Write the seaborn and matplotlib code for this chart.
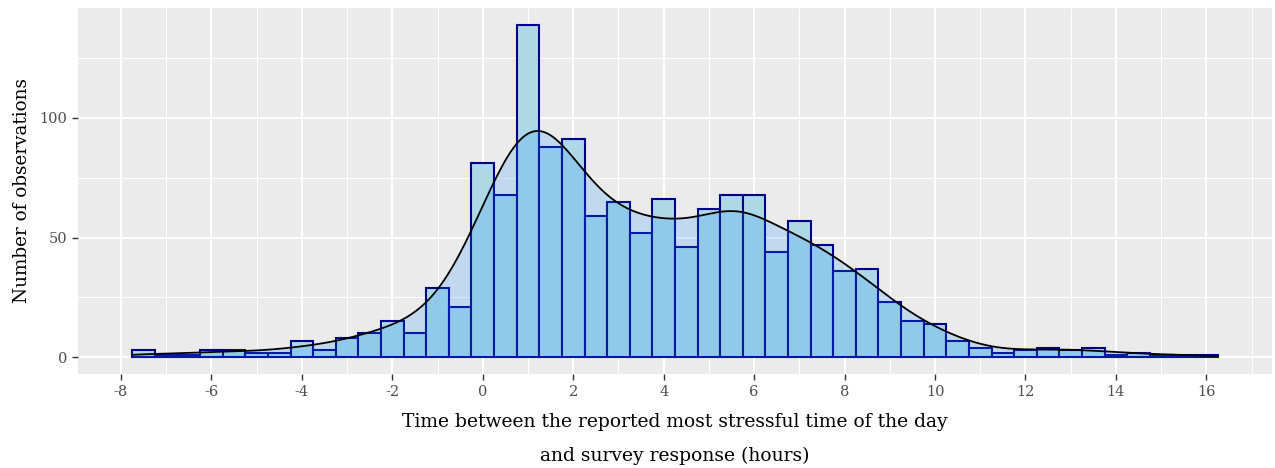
import numpy as np
import pandas as pd
import seaborn as sns
import matplotlib.pyplot as plt
from matplotlib.ticker import FixedLocator

# ---- data ----
bin_start = -7.75
bin_width = 0.5
counts = [3, 1, 1, 3, 3, 2, 2, 7, 3, 8,
          10, 15, 10, 29, 21, 81, 68, 139, 88, 91,
          59, 65, 52, 66, 46, 62, 68, 68, 44, 57,
          47, 36, 37, 23, 15, 14, 7, 4, 2, 3,
          4, 3, 4, 1, 2, 1, 1, 1]
x_ticks = [-8, -6, -4, -2, 0, 2, 4, 6, 8, 10, 12, 14, 16]
y_ticks = [0, 50, 100]
x_title_lines = ["Time between the reported most stressful time of the day",
                 "and survey response (hours)"]
y_title = "Number of observations"

n_bins = len(counts)
edges = bin_start + bin_width * np.arange(n_bins + 1)
centers = bin_start + bin_width * (np.arange(n_bins) + 0.5)
df = pd.DataFrame({"hours": np.repeat(centers, counts)})

sns.set_theme(style="darkgrid", rc={
    "axes.facecolor": "#EBEBEB",
    "grid.color": "white",
})
plt.rcParams["font.family"] = ["DejaVu Serif"]

fig, ax = plt.subplots(figsize=(12.75, 4.68), dpi=100)
fig.subplots_adjust(left=0.0612, right=0.9976, bottom=0.2009, top=0.983)

sns.histplot(
    data=df, x="hours", bins=edges, ax=ax,
    kde=True,
    kde_kws={"bw_adjust": 0.9, "cut": 3, "clip": (edges[0], edges[-1]), "gridsize": 400},
    line_kws={"color": "black", "linewidth": 1.3, "zorder": 3},
    facecolor="lightblue", edgecolor="darkblue", linewidth=1.5, alpha=1,
)

# semi-transparent density area over the bars (as in the reference)
kde_line = ax.lines[-1]
kx, ky = kde_line.get_data()
kde_line.set_color("black")
ax.fill_between(kx, 0, ky, color="dodgerblue", alpha=0.2, linewidth=0, zorder=2)

ymax = max(counts)
span = edges[-1] - edges[0]
ax.set_xlim(edges[0] - 0.05 * span, edges[-1] + 0.05 * span)
ax.set_ylim(-0.05 * ymax, ymax * 1.05)

ax.xaxis.set_major_locator(FixedLocator(x_ticks))
ax.xaxis.set_minor_locator(FixedLocator([x_ticks[0] - 1] + [t + 1 for t in x_ticks]))
ax.yaxis.set_major_locator(FixedLocator(y_ticks))
ax.yaxis.set_minor_locator(FixedLocator([25, 75, 125]))
ax.set_xticklabels([str(t) for t in x_ticks])
ax.set_yticklabels([str(t) for t in y_ticks])

ax.grid(which="major", color="white", linewidth=1.4)
ax.grid(which="minor", color="white", linewidth=0.7)
ax.set_axisbelow(True)

ax.tick_params(which="major", length=4, width=1, color="#333333", direction="out",
               labelsize=10.5, labelcolor="#4D4D4D", pad=4)
ax.tick_params(which="minor", length=0)
ax.tick_params(axis="x", bottom=True)
ax.tick_params(axis="y", left=True)

for s in ax.spines.values():
    s.set_visible(False)

ax.set_xlabel("")
xc = (ax.get_position().x0 + ax.get_position().x1) / 2
fig.text(xc, 1 - 427 / 468, x_title_lines[0], fontsize=13.5, color="black",
         ha="center", va="baseline")
fig.text(xc, 1 - 461 / 468, x_title_lines[1], fontsize=13.5, color="black",
         ha="center", va="baseline")
ax.set_ylabel(y_title, fontsize=13.2, color="black", labelpad=6)

fig.savefig("out.png", dpi=100)
